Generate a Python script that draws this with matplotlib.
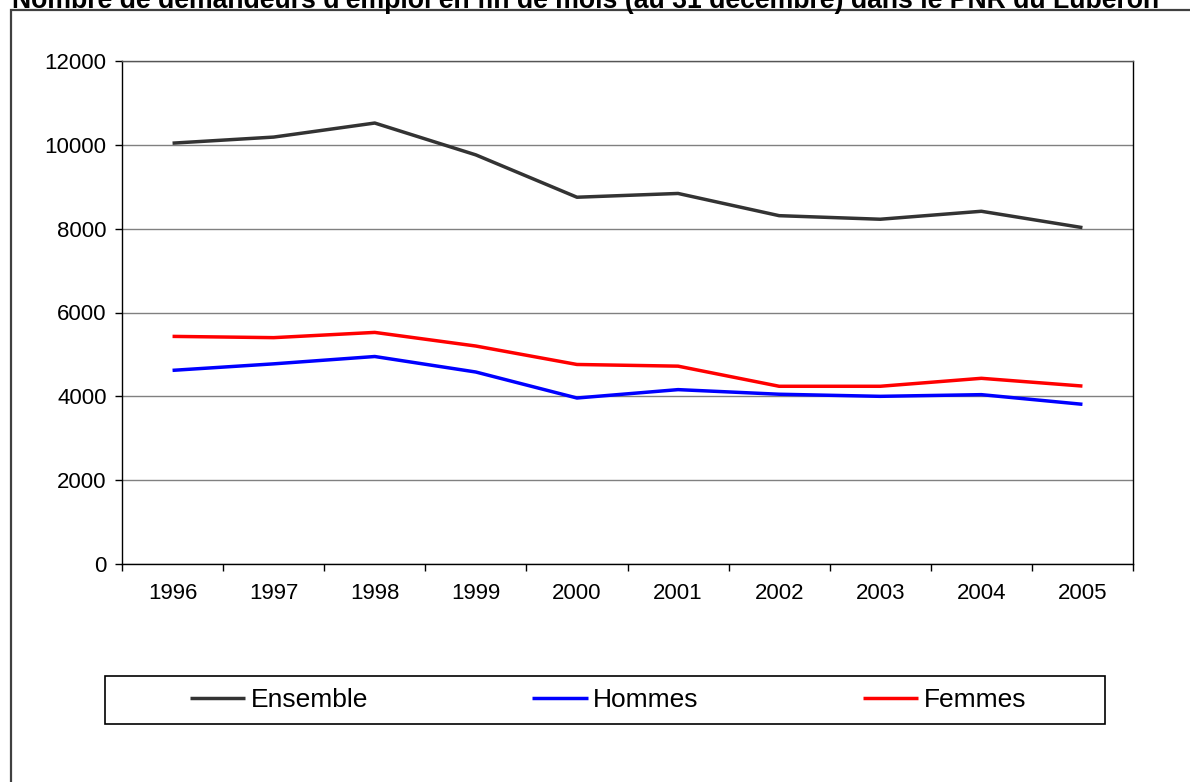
import matplotlib
matplotlib.use("Agg")
import matplotlib.pyplot as plt
from matplotlib.patches import Rectangle
import numpy as np

# data
years = ["1996", "1997", "1998", "1999", "2000", "2001", "2002", "2003", "2004", "2005"]
ensemble = [10040, 10185, 10520, 9760, 8750, 8840, 8310, 8225, 8415, 8025]
hommes = [4620, 4775, 4950, 4580, 3960, 4160, 4050, 4000, 4040, 3810]
femmes = [5430, 5400, 5525, 5200, 4760, 4720, 4240, 4240, 4430, 4245]

SERIES = [("Ensemble", ensemble, "#333333"),
          ("Hommes", hommes, "#0000ff"),
          ("Femmes", femmes, "#ff0000")]

plt.rcParams["font.family"] = ["Liberation Sans", "DejaVu Sans"]

W, H = 1190, 782
fig = plt.figure(figsize=(W / 100, H / 100), dpi=100)
ax = fig.add_axes([122 / W, 1 - 564 / H, (1133 - 122) / W, (564 - 61) / H])

x = np.arange(len(years))
handles = []
for name, vals, col in SERIES:
    h, = ax.plot(x, vals, color=col, lw=2.5, label=name, solid_capstyle="butt")
    handles.append(h)

ax.set_xlim(-0.5, len(years) - 0.5)
ax.set_ylim(0, 12000)
ax.set_yticks(np.arange(0, 12001, 2000))
ax.set_yticklabels([str(v) for v in range(0, 12001, 2000)], fontsize=16)

# category boundaries get tick marks, labels sit in between
ax.set_xticks(np.arange(-0.5, len(years), 1.0))
ax.set_xticklabels([])
ax.set_xticks(x, minor=True)
ax.set_xticklabels(years, minor=True, fontsize=16)
ax.tick_params(axis="x", which="major", length=5, width=1, direction="out")
ax.tick_params(axis="x", which="minor", length=0, pad=14)
ax.tick_params(axis="y", length=5, width=1, direction="out", pad=6)

ax.grid(axis="y", color="#808080", lw=1)
ax.set_axisbelow(True)
for s in ax.spines.values():
    s.set_color("black")
    s.set_linewidth(1)
ax.spines["top"].set_color("#555555")

# legend (frame drawn separately)
fig.legend(handles=handles, ncol=3, frameon=False, mode="expand", loc="center",
           bbox_to_anchor=(190 / W, 1 - 724 / H, (1026 - 190) / W, 48 / H),
           borderpad=0, borderaxespad=0, fontsize=19, handlelength=2.1,
           handletextpad=0.2)
fig.add_artist(Rectangle((105 / W, 1 - 724 / H), 1000 / W, 48 / H,
                         transform=fig.transFigure, fill=False,
                         edgecolor="black", lw=1.2))

# outer chart border, runs off the right and bottom of the picture
top = 1 - 10 / H
fig.add_artist(Rectangle((11 / W, -0.1), 1.2, top + 0.1,
                         transform=fig.transFigure, fill=False,
                         edgecolor="#404040", lw=1.6))

fig.text(586 / W, 1 - 8 / H,
         "Nombre de demandeurs d'emploi en fin de mois (au 31 décembre) dans le PNR du Luberon",
         ha="center", va="baseline", fontsize=19.2, fontweight="bold")

fig.savefig("out.png", dpi=100)
